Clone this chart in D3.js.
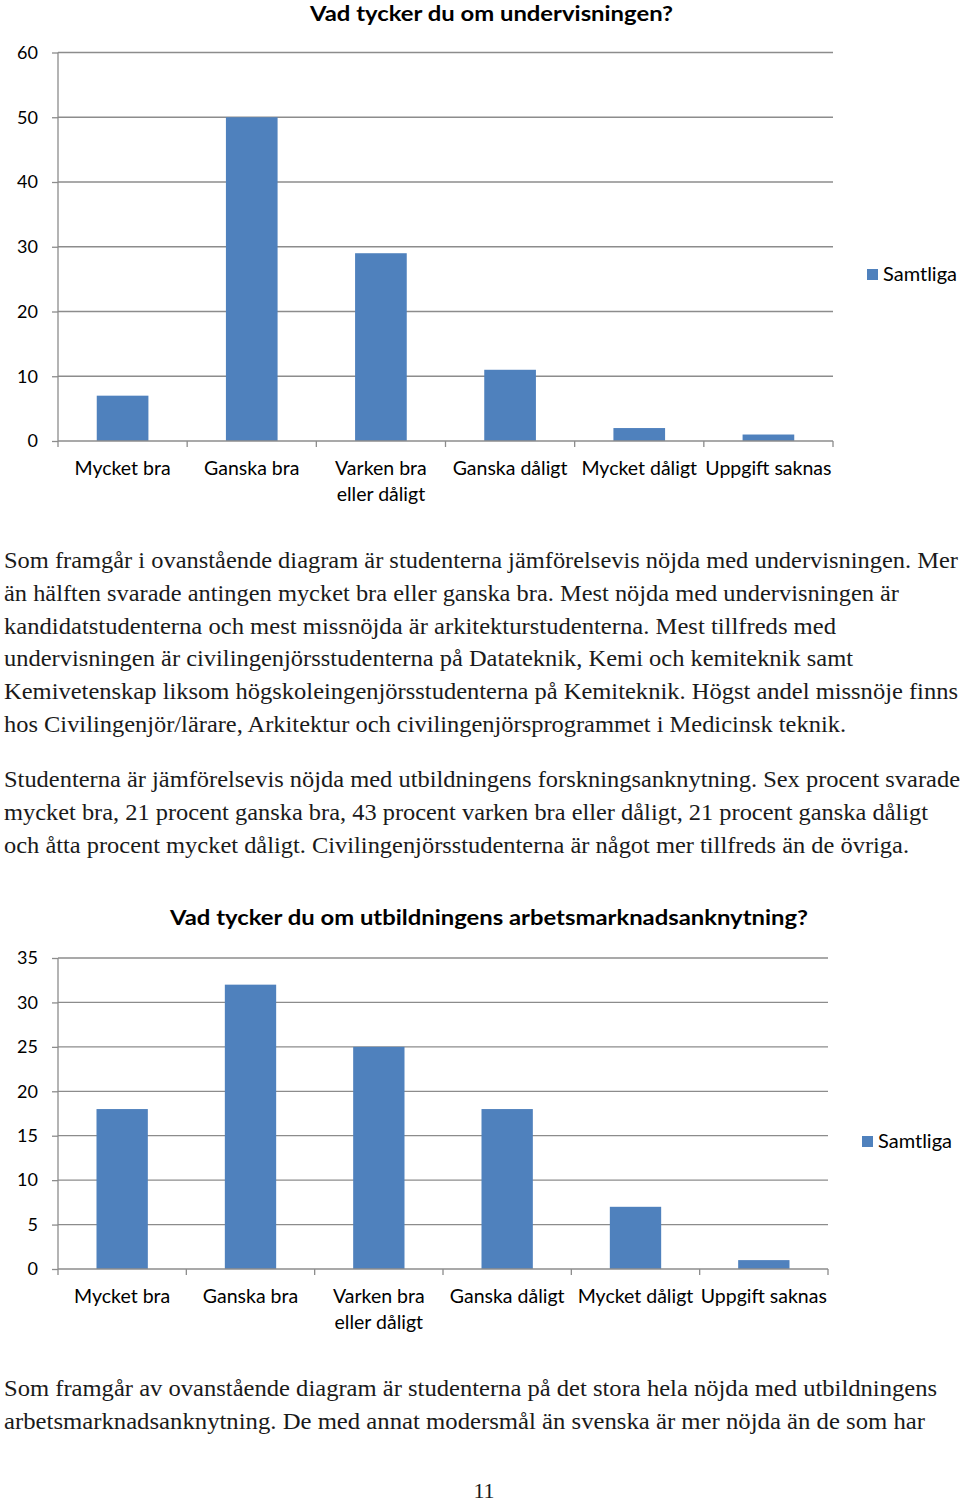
<!DOCTYPE html>
<html><head><meta charset="utf-8">
<script src="https://cdn.jsdelivr.net/npm/d3@7"></script>
<style>
html,body{margin:0;padding:0;background:#fff;}
svg{display:block;}
</style></head>
<body>
<svg id="page" width="960" height="1505"></svg>
<script>
// ---- data ----
const categories = ["Mycket bra","Ganska bra","Varken bra\neller dåligt","Ganska dåligt","Mycket dåligt","Uppgift saknas"];
const undervisningValues = [7, 50, 29, 11, 2, 1];
const undervisningTicks = [0,10,20,30,40,50,60];
const arbetsValues = [18, 32, 25, 18, 7, 1];
const arbetsTicks = [0,5,10,15,20,25,30,35];
const seriesName = "Samtliga";
const title1 = "Vad tycker du om undervisningen?";
const title2 = "Vad tycker du om utbildningens arbetsmarknadsanknytning?";
const para1 = [
 "Som framgår i ovanstående diagram är studenterna jämförelsevis nöjda med undervisningen. Mer",
 "än hälften svarade antingen mycket bra eller ganska bra. Mest nöjda med undervisningen är",
 "kandidatstudenterna och mest missnöjda är arkitekturstudenterna. Mest tillfreds med",
 "undervisningen är civilingenjörsstudenterna på Datateknik, Kemi och kemiteknik samt",
 "Kemivetenskap liksom högskoleingenjörsstudenterna på Kemiteknik. Högst andel missnöje finns",
 "hos Civilingenjör/lärare, Arkitektur och civilingenjörsprogrammet i Medicinsk teknik."
];
const para2 = [
 "Studenterna är jämförelsevis nöjda med utbildningens forskningsanknytning. Sex procent svarade",
 "mycket bra, 21 procent ganska bra, 43 procent varken bra eller dåligt, 21 procent ganska dåligt",
 "och åtta procent mycket dåligt. Civilingenjörsstudenterna är något mer tillfreds än de övriga."
];
const para3 = [
 "Som framgår av ovanstående diagram är studenterna på det stora hela nöjda med utbildningens",
 "arbetsmarknadsanknytning. De med annat modersmål än svenska är mer nöjda än de som har"
];
const pageNumber = "11";

// ---- layout ----
const svg = d3.select("#page");
const BAR = "#4F81BD", GRID = "#8C8C8C";
const chartFont = "Lato, 'Open Sans', sans-serif";
const serif = "'Liberation Serif', 'DejaVu Serif', serif";

function drawChart(o){
  const g = svg.append("g");
  const y = d3.scaleLinear().domain([0, d3.max(o.ticks)]).range([o.y0, o.y1]);
  const x = d3.scaleBand().domain(categories).range([o.x0, o.x1]).paddingInner(0.6).paddingOuter(0.3);
  // gridlines
  g.selectAll(".grid").data(o.ticks.filter(t=>t>0)).join("line")
    .attr("x1", o.x0).attr("x2", o.x1).attr("y1", d=>y(d)).attr("y2", d=>y(d))
    .attr("stroke", GRID).attr("stroke-width", 1.3);
  // y axis
  const ya = g.append("g").attr("transform", `translate(${o.x0},0)`)
    .call(d3.axisLeft(y).tickValues(o.ticks).tickSize(6).tickPadding(14));
  ya.select(".domain").attr("stroke", GRID).attr("stroke-width", 1.3).attr("d", `M-0,${o.y0}V${o.y1}`);
  ya.selectAll(".tick line").attr("stroke", GRID).attr("stroke-width", 1.3);
  ya.selectAll(".tick text").attr("font-family", chartFont).attr("font-size", 18).attr("fill", "#000");
  // bars
  g.selectAll(".bar").data(o.values).join("rect")
    .attr("x", (d,i)=>x(categories[i])).attr("width", x.bandwidth())
    .attr("y", d=>y(d)).attr("height", d=>y(0)-y(d)).attr("fill", BAR);
  // x axis line and boundary ticks
  const bounds = d3.range(categories.length+1).map(i=>o.x0 + i*(o.x1-o.x0)/categories.length);
  g.append("line").attr("x1", o.x0).attr("x2", o.x1).attr("y1", y(0)).attr("y2", y(0))
    .attr("stroke", GRID).attr("stroke-width", 1.3);
  g.selectAll(".xt").data(bounds).join("line")
    .attr("x1", d=>d).attr("x2", d=>d).attr("y1", y(0)).attr("y2", y(0)+6)
    .attr("stroke", GRID).attr("stroke-width", 1.3);
  // x labels
  const lab = g.selectAll(".xl").data(categories).join("text")
    .attr("text-anchor", "middle").attr("font-family", chartFont).attr("font-size", 19.5).attr("fill", "#000")
    .attr("x", d=>x(d)+x.bandwidth()/2).attr("y", y(0)+34);
  lab.each(function(d){
    const t = d3.select(this);
    d.split("\n").forEach((s,i)=>{
      t.append("tspan").attr("x", t.attr("x")).attr("dy", i===0?0:26).text(s);
    });
  });
  // title
  g.append("text").attr("x", o.titleX).attr("y", o.titleY).attr("font-family", chartFont)
    .attr("font-weight", "bold").attr("font-size", 21).attr("fill", "#000")
    .attr("textLength", o.titleW).attr("lengthAdjust", "spacingAndGlyphs").text(o.title);
  // legend
  g.append("rect").attr("x", o.legX).attr("y", o.legY).attr("width", 11).attr("height", 11).attr("fill", BAR);
  g.append("text").attr("x", o.legX+16).attr("y", o.legY+12).attr("font-family", chartFont)
    .attr("font-size", 20).attr("fill", "#000").text(seriesName);
}

drawChart({values: undervisningValues, ticks: undervisningTicks, x0: 58, x1: 833, y0: 441, y1: 52.5,
  title: title1, titleX: 310, titleY: 21, titleW: 363, legX: 867, legY: 269});
drawChart({values: arbetsValues, ticks: arbetsTicks, x0: 58, x1: 828, y0: 1269, y1: 958,
  title: title2, titleX: 170, titleY: 925, titleW: 638, legX: 862, legY: 1136});

function drawPara(lines, widths, top, lh, size){
  svg.append("g").selectAll("text").data(lines).join("text")
    .attr("x", 4).attr("y", (d,i)=>top + i*lh)
    .attr("font-family", serif).attr("font-size", size).attr("fill", "#1a1a1a")
    .attr("textLength", (d,i)=>widths[i]).attr("lengthAdjust", "spacingAndGlyphs")
    .text(d=>d);
}
drawPara(para1, [954, 895, 832, 849, 954, 842], 568, 32.8, 22.5);
drawPara(para2, [956, 924, 905], 787, 32.8, 22.5);
drawPara(para3, [933, 921], 1396, 32.5, 22.5);

svg.append("text").attr("x", 484).attr("y", 1498).attr("text-anchor", "middle")
  .attr("font-family", serif).attr("font-size", 22).attr("fill", "#1a1a1a").text(pageNumber);
</script>
</body></html>
